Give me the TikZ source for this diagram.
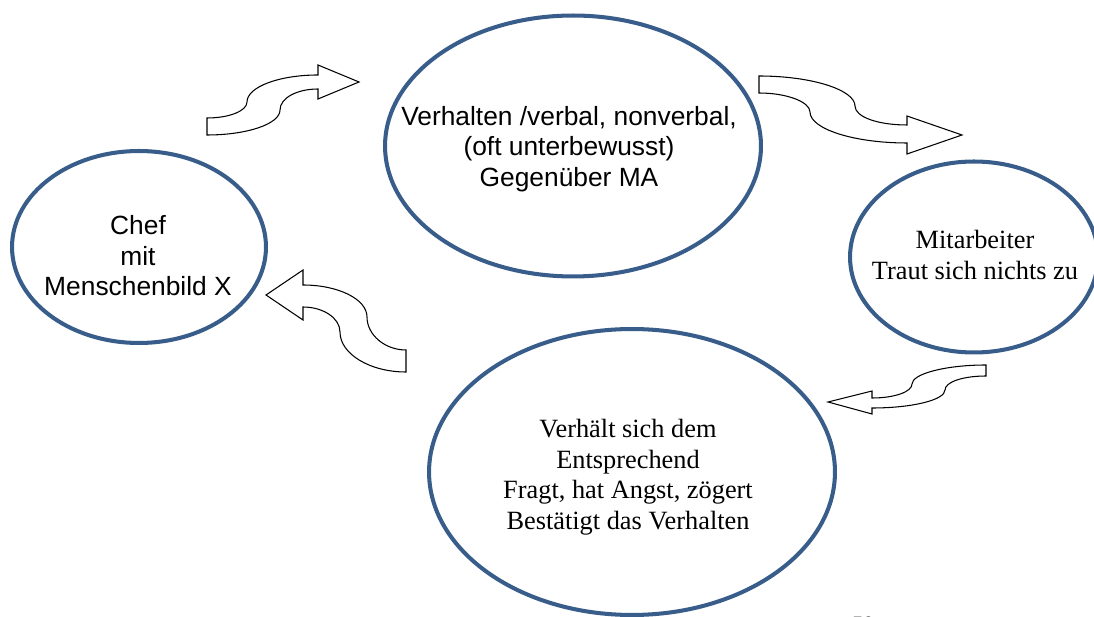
\documentclass[tikz,border=0pt]{standalone}
\usepackage{fontspec}
\setmainfont{Liberation Serif}
\setsansfont{Liberation Sans}
\usetikzlibrary{shapes.geometric}
\definecolor{ringblue}{HTML}{385D8A}

\begin{document}
\begin{tikzpicture}[x=0.02cm, y=-0.02cm,
  ring/.style={draw=ringblue, line width=2.3pt, ellipse, inner sep=0pt},
  swoosh/.style={draw=black, fill=white, line width=0.6pt},
  sans/.style={font=\sffamily\fontsize{15}{17.4}\selectfont, align=center},
  serif/.style={font=\rmfamily\fontsize{15}{17.4}\selectfont, align=center}]
\useasboundingbox (0,0) rectangle (1094,617);

% Ellipsen
\node[ring, minimum width=5.08cm, minimum height=3.84cm] (chef) at (139,247) {};
\node[ring, minimum width=7.52cm, minimum height=5.22cm] (verhalten) at (573,146) {};
\node[ring, minimum width=4.96cm, minimum height=3.82cm] (mitarbeiter) at (974,257) {};
\node[ring, minimum width=8.12cm, minimum height=5.72cm] (reaktion) at (632,472) {};

\node[sans] (cheftext) at (138,256) {Chef\\mit\\Menschenbild X};
\node[sans] (verhaltentext) at (569,149) {Verhalten /verbal, nonverbal,\\(oft unterbewusst)\\Gegenüber MA};
\node[serif] (mitarbeitertext) at (975,255) {Mitarbeiter\\Traut sich nichts zu};
\node[serif] (reaktiontext) at (628,477) {Verhält sich dem\\Entsprechend\\Fragt, hat Angst, zögert\\Bestätigt das Verhalten};

% Pfeile
\draw[swoosh] (207,118) .. controls (229,118) and (247,111) .. (247,102)
  .. controls (247,87) and (279,75) .. (318,75) -- (318,65) -- (359,82) -- (318,99) -- (318,89)
  .. controls (297,89) and (280,98) .. (280,110)
  .. controls (280,124) and (247,135) .. (207,135) -- cycle;
\draw[swoosh] (759,76) .. controls (812,76) and (855,90) .. (855,106)
  .. controls (855,117) and (878,125) .. (907,125) -- (907,116) -- (962,135) -- (907,154) -- (907,143)
  .. controls (854,143) and (810,129) .. (810,112)
  .. controls (810,102) and (787,93) .. (759,93) -- cycle;
\draw[swoosh] (986,365) .. controls (945,365) and (912,374) .. (912,384)
  .. controls (912,392) and (894,398) .. (872,398) -- (872,391) -- (828,402) -- (872,414) -- (872,408)
  .. controls (912,408) and (945,400) .. (945,390)
  .. controls (945,382) and (963,376) .. (986,376) -- cycle;
\draw[swoosh] (303,285) .. controls (338,285) and (367,299) .. (367,317)
  .. controls (367,335) and (385,350) .. (406,350) -- (406,372)
  .. controls (370,372) and (340,354) .. (340,332)
  .. controls (340,318) and (323,307) .. (303,307) -- (303,320) -- (266,295) -- (303,270) -- cycle;

\node[font=\sffamily\fontsize{11}{13}\selectfont] (seite) at (863,624) {50};
\end{tikzpicture}
\end{document}
